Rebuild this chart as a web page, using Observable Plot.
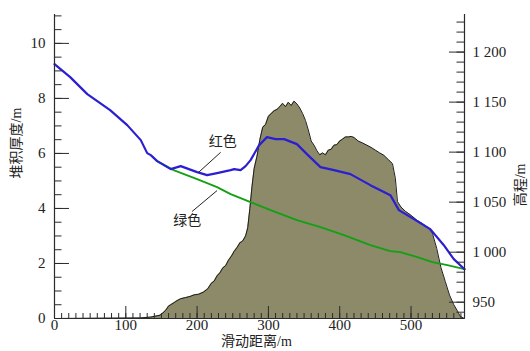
<!DOCTYPE html>
<html><head><meta charset="utf-8">
<script src="https://cdn.jsdelivr.net/npm/d3@7"></script>
<script src="https://cdn.jsdelivr.net/npm/@observablehq/plot@0.6"></script>
<style>
body{margin:0;background:#fff} svg{display:block}
svg text{font-family:'Liberation Serif','Noto Sans CJK SC',serif !important;}
</style>
</head><body><div id="chart"></div>
<script>
// Deposit thickness (left axis, m) vs sliding distance (m)
const thickDist = [0,120,135,148,152,156,160,163,168,172,177,184,190,196,202,209,215,220,224,228,232,236,240,244,248,252,256,260,264,268,271,274,277,280,284,288,292,296,300,304,308,312,316,320,324,328,332,336,340,344,348,352,356,360,364,368,372,376,380,384,388,392,396,400,404,408,412,416,420,426,432,438,444,450,456,462,468,474,478,481,486,492,500,508,516,524,530,536,542,548,554,560,565,569,573,575];
const thickVal  = [0,0.02,0.05,0.12,0.2,0.3,0.45,0.5,0.58,0.65,0.72,0.76,0.8,0.86,0.88,0.96,1.08,1.28,1.36,1.55,1.66,1.84,1.92,2.12,2.26,2.44,2.58,2.75,2.82,3.0,3.3,4.0,4.8,5.45,5.9,6.5,6.95,7.05,7.35,7.45,7.55,7.6,7.7,7.82,7.7,7.86,7.74,7.9,7.8,7.65,7.45,7.2,6.85,6.45,6.3,6.1,5.95,6.02,5.95,6.12,6.15,6.3,6.32,6.45,6.52,6.6,6.6,6.62,6.58,6.45,6.38,6.3,6.22,6.12,6.02,5.93,5.78,5.63,5.1,4.25,4.05,3.9,3.75,3.58,3.45,3.3,3.1,2.55,1.85,1.35,0.85,0.5,0.28,0.08,0.02,0];
// "红色" line: elevation (right axis, m)
const blueDist = [0,22,46,78,102,121,130,135,144,163,177,200,214,228,247,252,261,268,275,287,298,310,322,340,354,373,392,415,443,471,483,504,527,546,560,575];
const blueElev = [1188,1175,1158,1142,1127,1112,1099,1097,1091,1083,1086,1080,1077,1079,1082,1083,1082,1086,1092,1107,1115,1113,1113,1108,1098,1085,1082,1078,1067,1057,1042,1033,1023,1007,993,983];
// "绿色" line: elevation (right axis, m)
const greenDist = [144,167,200,228,247,275,303,340,373,406,443,471,485,509,530,551,575];
const greenElev = [1091,1082,1073,1065,1058,1050,1042,1032,1025,1017,1007,1001,1000,995,990,987,983];

const leftTicks = [0,2,4,6,8,10];
const rightTicks = [950,1000,1050,1100,1150,1200];
const xTicks = [0,100,200,300,400,500];
const yLabel = "堆积厚度/m", y2Label = "高程/m", xLabel = "滑动距离/m";
const notes = [{text:"红色", x:236, t:6.44, x1:233, t1:6.04, x2:202, t2:5.31},
               {text:"绿色", x:186, t:3.56, x1:228, t1:4.65, x2:193, t2:3.89}];

const W = 530, H = 351, ML = 54, MR = 66, MT = 14, MB = 33;
const PW = W - ML - MR, PH = H - MT - MB;
const E0 = 933.7, K = 27.5;           // elevation at thickness 0, metres per thickness unit
const toT = e => (e - E0) / K;
const fmtE = v => { const e = Math.round(v * K + E0); return e >= 1000 ? String(e).replace(/\B(?=(\d{3})+$)/, " ") : String(e); };

const thick = thickDist.map((d, i) => ({d, t: thickVal[i]}));
const blue = blueDist.map((d, i) => ({d, t: toT(blueElev[i])}));
const green = greenDist.map((d, i) => ({d, t: toT(greenElev[i])}));
const axisColor = "#2a2a2a";
const FONT = "'Liberation Serif', 'Noto Sans CJK SC', serif";

const chart = Plot.plot({
  width: W, height: H, marginLeft: ML, marginRight: MR, marginTop: MT, marginBottom: MB,
  style: `font-family: ${FONT}; font-size: 14px; color: #222; background: #fff;`,
  x: {domain: [0, 575]},
  y: {domain: [0, 11.05]},
  marks: [
    Plot.areaY(thick, {x: "d", y: "t", fill: "#8c8a69"}),
    Plot.lineY(thick, {x: "d", y: "t", stroke: "#1e1e1e", strokeWidth: 1}),
    Plot.line(green, {x: "d", y: "t", stroke: "#13a013", strokeWidth: 1.8}),
    Plot.line(blue, {x: "d", y: "t", stroke: "#2b1ed3", strokeWidth: 2.2}),
    // axis lines
    Plot.ruleX([0, 575], {stroke: axisColor, strokeWidth: 1.2}),
    Plot.ruleY([0], {stroke: axisColor, strokeWidth: 1.2}),
    // left ticks (inward)
    Plot.tickY(d3.range(0, 11.01, 0.5), {y: d => d, stroke: axisColor, insetRight: PW - 7.5}),
    Plot.tickY(leftTicks, {y: d => d, stroke: axisColor, insetRight: PW - 15}),
    // right ticks (inward)
    Plot.tickY(d3.range(940, 1231, 10).map(toT), {y: d => d, stroke: axisColor, insetLeft: PW - 7.5}),
    Plot.tickY(rightTicks.map(toT), {y: d => d, stroke: axisColor, insetLeft: PW - 15}),
    // bottom ticks (inward)
    Plot.tickX(d3.range(0, 571, 10), {x: d => d, stroke: axisColor, insetTop: PH - 5}),
    Plot.tickX(xTicks, {x: d => d, stroke: axisColor, insetTop: PH - 12}),
    // tick labels
    Plot.axisY(leftTicks, {anchor: "left", tickSize: 0, tickPadding: 9, label: null, fontSize: 15, fontFamily: FONT}),
    Plot.axisY(rightTicks.map(toT), {anchor: "right", tickSize: 0, tickPadding: 8, tickFormat: fmtE, label: null, fontSize: 15, fontFamily: FONT}),
    Plot.axisX(xTicks, {anchor: "bottom", tickSize: 0, tickPadding: 1, label: null, fontSize: 15, fontFamily: FONT}),
    // axis titles
    Plot.text([yLabel], {text: d => d, frameAnchor: "left", dx: -38, dy: 12, rotate: -90, fontSize: 14, fontFamily: FONT}),
    Plot.text([y2Label], {text: d => d, frameAnchor: "right", dx: 56, dy: -3, rotate: -90, fontSize: 14, fontFamily: FONT}),
    Plot.text([xLabel], {text: d => d, frameAnchor: "bottom", dx: -3, dy: 27, fontSize: 14, fontFamily: FONT}),
    // annotations
    Plot.link(notes, {x1: "x1", y1: "t1", x2: "x2", y2: "t2", stroke: "#222", strokeWidth: 1}),
    Plot.text(notes, {x: "x", y: "t", text: "text", fontSize: 14, fill: "#222", fontFamily: FONT})
  ]
});
document.getElementById("chart").append(chart);
</script>
</body></html>
